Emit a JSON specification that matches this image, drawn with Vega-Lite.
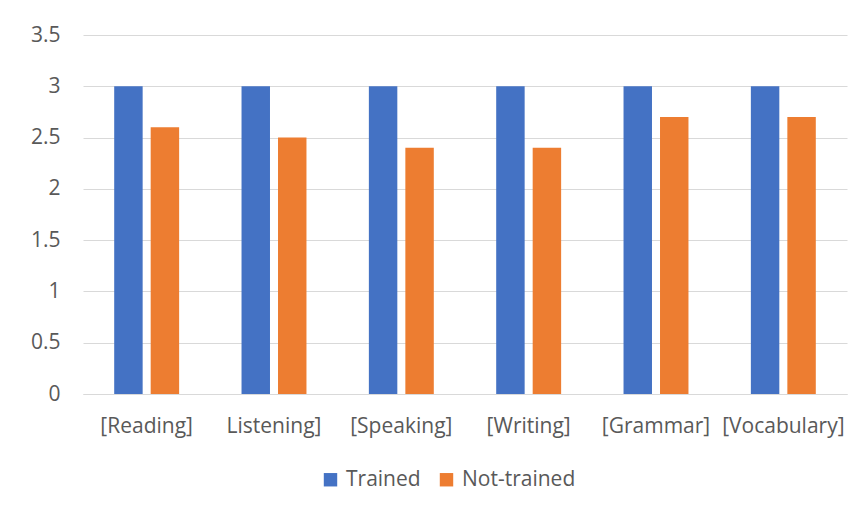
{
  "$schema": "https://vega.github.io/schema/vega-lite/v6.json",
  "autosize": {"type": "none"},
  "width": 764,
  "height": 359,
  "padding": {"left": 83, "top": 35, "right": 18, "bottom": 117},
  "background": "white",
  "config": {
    "view": {"stroke": null},
    "font": "Open Sans",
    "axis": {"labelColor": "#595959", "labelFont": "Open Sans", "labelFontSize": 21, "domain": false, "ticks": false, "gridColor": "#d9d9d9", "gridWidth": 1}
  },
  "data": {
    "values": [
      {"skill": "[Reading]", "group": "Trained", "value": 3},
      {"skill": "[Reading]", "group": "Not-trained", "value": 2.6},
      {"skill": "Listening]", "group": "Trained", "value": 3},
      {"skill": "Listening]", "group": "Not-trained", "value": 2.5},
      {"skill": "[Speaking]", "group": "Trained", "value": 3},
      {"skill": "[Speaking]", "group": "Not-trained", "value": 2.4},
      {"skill": "[Writing]", "group": "Trained", "value": 3},
      {"skill": "[Writing]", "group": "Not-trained", "value": 2.4},
      {"skill": "[Grammar]", "group": "Trained", "value": 3},
      {"skill": "[Grammar]", "group": "Not-trained", "value": 2.7},
      {"skill": "[Vocabulary]", "group": "Trained", "value": 3},
      {"skill": "[Vocabulary]", "group": "Not-trained", "value": 2.7}
    ]
  },
  "mark": {"type": "bar"},
  "encoding": {
    "x": {
      "field": "skill", "type": "nominal", "sort": null, "title": null,
      "scale": {"paddingInner": 0.49, "paddingOuter": 0.245},
      "axis": {"labelAngle": 0, "labelPadding": 21, "domain": true, "domainColor": "#d9d9d9", "domainWidth": 1}
    },
    "xOffset": {
      "field": "group", "type": "nominal", "sort": ["Trained", "Not-trained"],
      "scale": {"paddingInner": 0.22, "paddingOuter": 0}
    },
    "y": {
      "field": "value", "type": "quantitative", "title": null,
      "scale": {"domain": [0, 3.5], "nice": false},
      "axis": {"values": [0, 0.5, 1, 1.5, 2, 2.5, 3, 3.5], "format": "~g", "labelPadding": 23, "grid": true}
    },
    "color": {
      "field": "group", "type": "nominal", "sort": ["Trained", "Not-trained"],
      "scale": {"domain": ["Trained", "Not-trained"], "range": ["#4472C4", "#ED7D31"]},
      "legend": {
        "title": null, "orient": "none", "direction": "horizontal",
        "legendX": 237, "legendY": 434,
        "symbolType": "square", "symbolSize": 180, "symbolStrokeWidth": 0,
        "labelFontSize": 21, "labelColor": "#595959", "labelFont": "Open Sans",
        "columnPadding": 15, "labelOffset": 5
      }
    }
  }
}
